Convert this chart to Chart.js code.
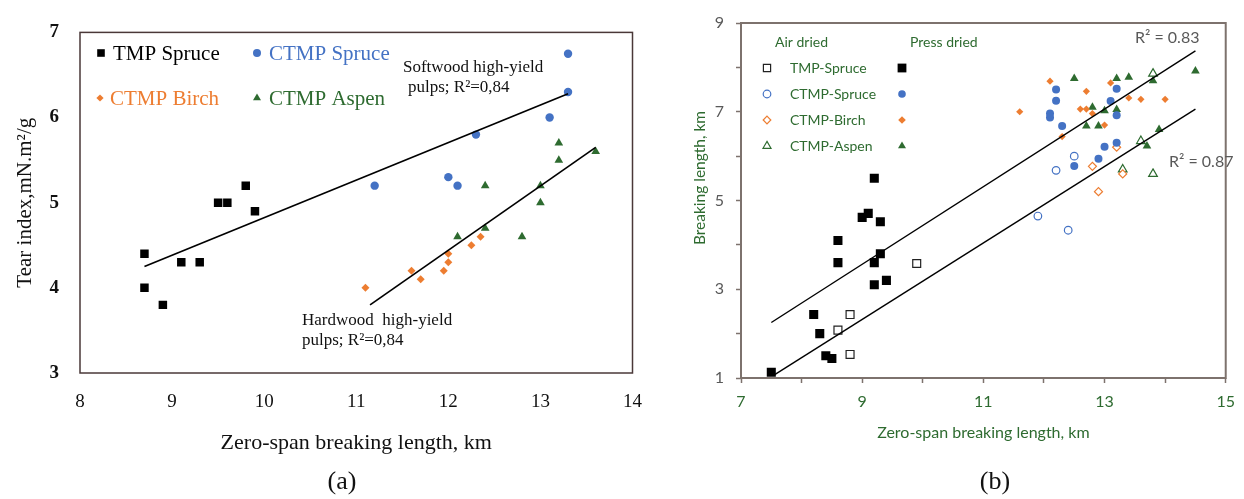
<!DOCTYPE html>
<html><head><meta charset="utf-8">
<script src="https://cdn.jsdelivr.net/npm/chart.js@4.4.1/dist/chart.umd.min.js"></script>
<style>
html,body{margin:0;padding:0;background:#fff;}
#wrap{position:relative;width:1244px;height:499px;overflow:hidden;background:#fff;}
#ca{position:absolute;left:0;top:0;}
#cb{position:absolute;left:620px;top:0;}
.cap{position:absolute;font-family:'Liberation Serif',serif;font-size:26px;color:#111;transform:translate(-50%,-50%);white-space:nowrap;}
</style></head><body>
<div id="wrap">
<canvas id="ca" width="660" height="499"></canvas>
<canvas id="cb" width="624" height="499"></canvas>
<div class="cap" style="left:342px;top:481px">(a)</div>
<div class="cap" style="left:995px;top:481px">(b)</div>
</div>
<script>
// ---------- Panel (a): tear index vs zero-span breaking length ----------
const tmpSpruceA_x  = [8.7, 8.7, 8.9, 9.1, 9.3, 9.5, 9.6, 9.8, 9.9];
const tmpSpruceA_y  = [4.4, 4.0, 3.8, 4.3, 4.3, 5.0, 5.0, 5.2, 4.9];
const ctmpSpruceA_x = [11.2, 12.0, 12.1, 12.3, 13.1, 13.3, 13.3];
const ctmpSpruceA_y = [5.2, 5.3, 5.2, 5.8, 6.0, 6.3, 6.75];
const ctmpBirchA_x  = [11.1, 11.6, 11.7, 11.95, 12.0, 12.0, 12.25, 12.35];
const ctmpBirchA_y  = [4.0, 4.2, 4.1, 4.2, 4.3, 4.4, 4.5, 4.6];
const ctmpAspenA_x  = [12.1, 12.4, 12.4, 12.8, 13.0, 13.0, 13.2, 13.2, 13.6];
const ctmpAspenA_y  = [4.6, 4.7, 5.2, 4.6, 5.0, 5.2, 5.5, 5.7, 5.6];
const softwoodFit_x = [8.7, 13.3];
const softwoodFit_y = [4.25, 6.28];
const hardwoodFit_x = [11.15, 13.6];
const hardwoodFit_y = [3.8, 5.65];
const xTicksA = [8, 9, 10, 11, 12, 13, 14];
const yTicksA = [3, 4, 5, 6, 7];

// ---------- Panel (b): breaking length vs zero-span breaking length ----------
const airTmp_x    = [8.6, 8.8, 8.8, 9.9];
const airTmp_y    = [2.08, 2.43, 1.53, 3.58];
const pressTmp_x  = [7.5, 8.2, 8.3, 8.4, 8.5, 8.6, 8.6, 9.0, 9.1, 9.2, 9.2, 9.2, 9.3, 9.3, 9.4];
const pressTmp_y  = [1.13, 2.43, 2.0, 1.5, 1.44, 4.1, 3.6, 4.62, 4.71, 5.5, 3.6, 3.1, 4.52, 3.8, 3.2];
const airSpruce_x   = [11.9, 12.2, 12.4, 12.5];
const airSpruce_y   = [4.65, 5.68, 4.33, 6.0];
const pressSpruce_x = [12.1, 12.1, 12.2, 12.2, 12.3, 12.5, 12.9, 13.0, 13.1, 13.2, 13.2, 13.2];
const pressSpruce_y = [6.96, 6.87, 7.5, 7.25, 6.68, 5.78, 5.94, 6.21, 7.24, 7.52, 6.92, 6.3];
const airBirch_x   = [12.8, 12.9, 13.2, 13.3];
const airBirch_y   = [5.77, 5.2, 6.2, 5.6];
const pressBirch_x = [11.6, 12.1, 12.3, 12.6, 12.7, 12.7, 12.8, 13.0, 13.1, 13.4, 13.6, 14.0];
const pressBirch_y = [7.0, 7.69, 6.44, 7.06, 7.06, 7.46, 6.96, 6.7, 7.65, 7.31, 7.28, 7.28];
const airAspen_x   = [13.3, 13.6, 13.8, 13.8];
const airAspen_y   = [5.7, 6.34, 5.6, 7.86];
const pressAspen_x = [12.5, 12.7, 12.8, 12.9, 13.0, 13.2, 13.2, 13.4, 13.7, 13.8, 13.9, 14.5];
const pressAspen_y = [7.75, 6.68, 7.1, 6.68, 7.02, 7.75, 7.05, 7.78, 6.23, 7.7, 6.6, 7.92];
const pressFit_x = [7.5, 14.5];
const pressFit_y = [2.25, 8.37];
const airFit_x   = [7.55, 14.5];
const airFit_y   = [1.07, 7.06];
const xTickLabelsB = [7, 9, 11, 13, 15];
const yTickLabelsB = [1, 3, 5, 7, 9];

const BLUE = '#4472C4', ORANGE = '#ED7D31', GREEN = '#2E6B30', BLACK = '#000';
const zip = (xs, ys) => xs.map((x, i) => ({x, y: ys[i]}));

function mark(ctx, shape, x, y, r, fill, stroke, lw) {
  ctx.beginPath();
  if (shape === 'square') ctx.rect(x - r, y - r, 2 * r, 2 * r);
  else if (shape === 'circle') ctx.arc(x, y, r, 0, Math.PI * 2);
  else if (shape === 'diamond') { ctx.moveTo(x, y - r); ctx.lineTo(x + r, y); ctx.lineTo(x, y + r); ctx.lineTo(x - r, y); ctx.closePath(); }
  else if (shape === 'triangle') { ctx.moveTo(x, y - r); ctx.lineTo(x + r * 0.87, y + r * 0.5); ctx.lineTo(x - r * 0.87, y + r * 0.5); ctx.closePath(); }
  if (fill) { ctx.fillStyle = fill; ctx.fill(); }
  if (stroke) { ctx.strokeStyle = stroke; ctx.lineWidth = lw || 1; ctx.stroke(); }
}

const SERIF = "'Liberation Serif', serif";
const SANS = "Lato, 'Open Sans', sans-serif";

const panelA = {
  id: 'panelA',
  beforeDatasetsDraw(chart) {
    const {ctx, chartArea: a} = chart;
    ctx.save();
    ctx.strokeStyle = '#4a3838'; ctx.lineWidth = 1.5;
    ctx.strokeRect(a.left, a.top, a.right - a.left, a.bottom - a.top);
    ctx.restore();
  },
  afterDraw(chart) {
    const ctx = chart.ctx;
    ctx.save();
    const leg = [
      {t: 'TMP Spruce', c: BLACK, s: 'square', r: 3.8, mx: 101, tx: 113, y: 53},
      {t: 'CTMP Spruce', c: BLUE, s: 'circle', r: 4, mx: 257, tx: 269, y: 53},
      {t: 'CTMP Birch', c: ORANGE, s: 'diamond', r: 3.6, mx: 100, tx: 110, y: 98},
      {t: 'CTMP Aspen', c: GREEN, s: 'triangle', r: 4.6, mx: 257, tx: 269, y: 98}
    ];
    ctx.font = '21px ' + SERIF; ctx.textBaseline = 'middle'; ctx.textAlign = 'left';
    leg.forEach(l => {
      mark(ctx, l.s, l.mx, l.y, l.r, l.c);
      ctx.fillStyle = l.c; ctx.fillText(l.t, l.tx, l.y + 1);
    });
    ctx.fillStyle = '#111'; ctx.font = '17px ' + SERIF;
    ctx.fillText('Softwood high-yield', 403, 68);
    ctx.fillText('pulps; R\u00B2=0,84', 408, 88);
    ctx.fillText('Hardwood  high-yield', 302, 321);
    ctx.fillText('pulps; R\u00B2=0,84', 302, 341);
    ctx.restore();
  }
};

const panelB = {
  id: 'panelB',
  beforeDatasetsDraw(chart) {
    const {ctx, chartArea: a} = chart;
    ctx.save();
    ctx.strokeStyle = '#7d726d'; ctx.lineWidth = 2;
    ctx.strokeRect(a.left, a.top, a.right - a.left, a.bottom - a.top);
    ctx.restore();
  },
  afterDraw(chart) {
    const ctx = chart.ctx;
    ctx.save();
    ctx.font = '14px ' + SANS; ctx.textBaseline = 'middle'; ctx.textAlign = 'left';
    ctx.fillStyle = GREEN;
    ctx.fillText('Air dried', 155, 42);
    ctx.fillText('Press dried', 290, 42);
    const rows = [
      {t: 'TMP-Spruce', c: '#222', s: 'square', r: 3.6, y: 68},
      {t: 'CTMP-Spruce', c: BLUE, s: 'circle', r: 3.8, y: 94},
      {t: 'CTMP-Birch', c: ORANGE, s: 'diamond', r: 3.8, y: 120},
      {t: 'CTMP-Aspen', c: GREEN, s: 'triangle', r: 4.6, y: 146}
    ];
    rows.forEach(r => {
      mark(ctx, r.s, 147, r.y, r.r, '#fff', r.c, 1.2);
      mark(ctx, r.s, 282, r.y, r.s === 'square' ? 4.4 : r.r, r.c === '#222' ? BLACK : r.c);
      ctx.fillStyle = GREEN; ctx.fillText(r.t, 170, r.y);
    });
    ctx.fillStyle = '#595959'; ctx.font = '16px ' + SANS;
    ctx.fillText('R\u00B2 = 0.83', 515, 38);
    ctx.fillText('R\u00B2 = 0.87', 549, 162);
    // y-axis title (placed like the original, above the plot's mid-height)
    ctx.translate(80, 178); ctx.rotate(-Math.PI / 2);
    ctx.textAlign = 'center'; ctx.fillStyle = GREEN; ctx.font = '15.5px ' + SANS;
    ctx.fillText('Breaking length, km', 0, 0);
    ctx.restore();
  }
};

new Chart(document.getElementById('ca'), {
  type: 'scatter',
  data: {
    datasets: [
      {label: 'Softwood high-yield pulps', data: zip(softwoodFit_x, softwoodFit_y), showLine: true, pointRadius: 0, borderColor: '#000', borderWidth: 1.7, fill: false},
      {label: 'Hardwood high-yield pulps', data: zip(hardwoodFit_x, hardwoodFit_y), showLine: true, pointRadius: 0, borderColor: '#000', borderWidth: 1.7, fill: false},
      {label: 'TMP Spruce', data: zip(tmpSpruceA_x, tmpSpruceA_y), pointStyle: 'rect', pointRadius: 6, backgroundColor: BLACK, borderColor: BLACK, borderWidth: 0},
      {label: 'CTMP Spruce', data: zip(ctmpSpruceA_x, ctmpSpruceA_y), pointStyle: 'circle', pointRadius: 4.2, backgroundColor: BLUE, borderColor: BLUE, borderWidth: 0},
      {label: 'CTMP Birch', data: zip(ctmpBirchA_x, ctmpBirchA_y), pointStyle: 'rectRot', pointRadius: 4, backgroundColor: ORANGE, borderColor: ORANGE, borderWidth: 0},
      {label: 'CTMP Aspen', data: zip(ctmpAspenA_x, ctmpAspenA_y), pointStyle: 'triangle', pointRadius: 5, backgroundColor: GREEN, borderColor: GREEN, borderWidth: 0}
    ]
  },
  options: {
    responsive: false, animation: false, events: [],
    layout: {autoPadding: false, padding: {left: 8.5, right: 14, top: 26, bottom: 39}},
    plugins: {legend: {display: false}, tooltip: {enabled: false}},
    scales: {
      x: {
        type: 'linear', min: 8, max: 14,
        afterBuildTicks: s => { s.ticks = xTicksA.map(v => ({value: v})); },
        afterFit: s => { s.height = 87; },
        ticks: {color: '#111', font: {family: SERIF, size: 19}, padding: 18},
        grid: {display: false, drawTicks: false},
        border: {display: false},
        title: {display: true, text: 'Zero-span breaking length, km', color: '#111', font: {family: SERIF, size: 22}, padding: {top: 4, bottom: 4}}
      },
      y: {
        type: 'linear', min: 3, max: 7,
        afterBuildTicks: s => { s.ticks = yTicksA.map(v => ({value: v})); },
        afterFit: s => { s.width = 71.5; },
        ticks: {color: '#111', font: {family: SERIF, size: 19, weight: 'bold'}, padding: 21},
        grid: {display: false, drawTicks: false},
        border: {display: false},
        title: {display: true, text: 'Tear index,mN.m\u00B2/g', color: '#111', font: {family: SERIF, size: 21}, padding: {top: 4, bottom: 4}}
      }
    }
  },
  plugins: [panelA]
});

const oddOnly = labels => v => labels.includes(v) ? String(v) : '';
new Chart(document.getElementById('cb'), {
  type: 'scatter',
  data: {
    datasets: [
      {label: 'Press dried fit', data: zip(pressFit_x, pressFit_y), showLine: true, pointRadius: 0, borderColor: '#000', borderWidth: 1.4, fill: false},
      {label: 'Air dried fit', data: zip(airFit_x, airFit_y), showLine: true, pointRadius: 0, borderColor: '#000', borderWidth: 1.4, fill: false},
      {label: 'TMP-Spruce air dried', data: zip(airTmp_x, airTmp_y), pointStyle: 'rect', pointRadius: 5.6, backgroundColor: '#fff', borderColor: '#222', borderWidth: 1.2},
      {label: 'TMP-Spruce press dried', data: zip(pressTmp_x, pressTmp_y), pointStyle: 'rect', pointRadius: 6.4, backgroundColor: BLACK, borderColor: BLACK, borderWidth: 0},
      {label: 'CTMP-Spruce air dried', data: zip(airSpruce_x, airSpruce_y), pointStyle: 'circle', pointRadius: 3.8, backgroundColor: '#fff', borderColor: BLUE, borderWidth: 1.2},
      {label: 'CTMP-Spruce press dried', data: zip(pressSpruce_x, pressSpruce_y), pointStyle: 'circle', pointRadius: 4, backgroundColor: BLUE, borderColor: BLUE, borderWidth: 0},
      {label: 'CTMP-Birch air dried', data: zip(airBirch_x, airBirch_y), pointStyle: 'rectRot', pointRadius: 4, backgroundColor: '#fff', borderColor: ORANGE, borderWidth: 1.2},
      {label: 'CTMP-Birch press dried', data: zip(pressBirch_x, pressBirch_y), pointStyle: 'rectRot', pointRadius: 3.6, backgroundColor: ORANGE, borderColor: ORANGE, borderWidth: 0},
      {label: 'CTMP-Aspen air dried', data: zip(airAspen_x, airAspen_y), pointStyle: 'triangle', pointRadius: 5, backgroundColor: '#fff', borderColor: GREEN, borderWidth: 1.2},
      {label: 'CTMP-Aspen press dried', data: zip(pressAspen_x, pressAspen_y), pointStyle: 'triangle', pointRadius: 5, backgroundColor: GREEN, borderColor: GREEN, borderWidth: 0}
    ]
  },
  options: {
    responsive: false, animation: false, events: [],
    layout: {autoPadding: false, padding: {left: 65.7, right: 9, top: 23, bottom: 53}},
    plugins: {legend: {display: false}, tooltip: {enabled: false}},
    scales: {
      x: {
        type: 'linear', min: 7, max: 15,
        afterFit: s => { s.height = 68; },
        ticks: {stepSize: 1, autoSkip: false, callback: oddOnly(xTickLabelsB), color: GREEN, font: {family: SANS, size: 16}, padding: 9},
        grid: {display: true, drawOnChartArea: false, drawTicks: true, tickLength: 5, tickColor: '#7d726d', tickWidth: 1.5},
        border: {display: false},
        title: {display: true, text: 'Zero-span breaking length, km', color: GREEN, font: {family: SANS, size: 16}, padding: {top: 4, bottom: 4}}
      },
      y: {
        type: 'linear', min: 1, max: 9,
        afterFit: s => { s.width = 55.3; },
        ticks: {stepSize: 1, autoSkip: false, callback: oddOnly(yTickLabelsB), color: '#595959', font: {family: SANS, size: 16}, padding: 12},
        grid: {display: true, drawOnChartArea: false, drawTicks: true, tickLength: 5, tickColor: '#7d726d', tickWidth: 1.5},
        border: {display: false},
        title: {display: false, text: 'Breaking length, km'}
      }
    }
  },
  plugins: [panelB]
});
</script>
</body></html>
